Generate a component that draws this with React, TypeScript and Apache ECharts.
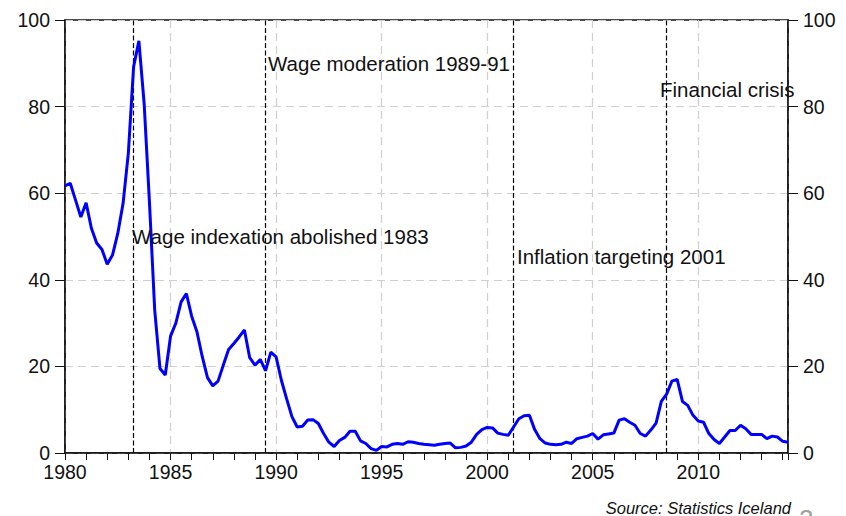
import React, { useEffect, useRef } from "react";
import * as echarts from "echarts";

// Quarterly inflation (% y/y), 1980Q1 .. 2014Q2
const startYear = 1980;
const inflation: number[] = [
  61.7, 62.3, 58.4, 54.5,
  57.8, 51.9, 48.5, 47.0,
  43.6, 45.7, 50.7, 57.6,
  69.2, 89.2, 95.2, 80.7,
  58.0, 33.0, 19.5, 18.0,
  27.0, 30.0, 34.9, 36.8,
  31.6, 28.0, 22.3, 17.4,
  15.5, 16.6, 20.3, 23.9,
  25.3, 26.8, 28.4, 22.0,
  20.3, 21.6, 19.0, 23.3,
  22.2, 16.8, 12.5, 8.4,
  6.0, 6.2, 7.6, 7.7,
  6.8, 4.5, 2.5, 1.5,
  2.9, 3.6, 5.0, 5.0,
  2.8, 2.2, 1.0, 0.6,
  1.5, 1.4, 2.0, 2.2,
  2.0, 2.6, 2.5, 2.2,
  2.0, 1.9, 1.8, 2.0,
  2.2, 2.3, 1.2, 1.3,
  1.6, 2.5, 4.3, 5.4,
  5.9, 5.8, 4.6, 4.3,
  4.1, 6.0, 7.9, 8.6,
  8.7, 5.4, 3.3, 2.3,
  2.0, 1.9, 2.0, 2.5,
  2.2, 3.3, 3.6, 3.9,
  4.5, 3.2, 4.2, 4.4,
  4.6, 7.6, 7.9, 7.1,
  6.4, 4.5, 3.9, 5.3,
  6.9, 11.9, 13.6, 16.6,
  17.0, 11.9, 11.0, 8.7,
  7.4, 7.1, 4.5, 3.1,
  2.2, 3.7, 5.2, 5.2,
  6.4, 5.6, 4.3, 4.3,
  4.3, 3.3, 3.9, 3.7,
  2.7, 2.5,
];

const eventYears: number[] = [1983.25, 1989.5, 2001.25, 2008.5];
const eventLabels: string[] = [
  "Wage indexation abolished 1983",
  "Wage moderation 1989-91",
  "Inflation targeting 2001",
  "Financial crisis",
];
const yTicks: number[] = [0, 20, 40, 60, 80, 100];
const sourceText = "Source: Statistics Iceland";

const FONT = 'Arial, "Liberation Sans", Helvetica, sans-serif';

export default function App() {
  const ref = useRef<HTMLDivElement>(null);

  useEffect(() => {
    if (!ref.current) return;
    const chart = echarts.init(ref.current, undefined, { renderer: "svg" });

    const seriesData = inflation.map((v, i) => [startYear + i / 4, v]);
    const xMax = startYear + (inflation.length - 1) / 4;

    const labelPos = [
      { x: 132, y: 236 },
      { x: 268, y: 63 },
      { x: 517, y: 256 },
      { x: 660, y: 89 },
    ];

    const yAxisBase = {
      type: "value",
      min: yTicks[0],
      max: yTicks[yTicks.length - 1],
      interval: yTicks[1] - yTicks[0],
      axisLine: { show: true, lineStyle: { color: "#111", width: 1.5 } },
      axisTick: { show: true, inside: false, length: 10, lineStyle: { color: "#111", width: 1 } },
      axisLabel: { color: "#111", fontSize: 19.5, fontFamily: FONT, margin: 15 },
    };

    chart.setOption({
      animation: false,
      backgroundColor: "#fff",
      grid: {
        left: 65,
        right: 58,
        top: 20,
        bottom: 63,
        show: true,
        borderColor: "#111",
        borderWidth: 1.5,
        backgroundColor: "transparent",
      },
      xAxis: [
        {
          type: "value",
          min: startYear,
          max: xMax,
          interval: 5,
          axisLine: { show: true, lineStyle: { color: "#111", width: 1.5 } },
          axisTick: { show: false },
          axisLabel: {
            color: "#111",
            fontSize: 19.5,
            fontFamily: FONT,
            margin: 9,
            showMaxLabel: false,
            formatter: (v: number) => (Number.isInteger(v) && v % 5 === 0 ? String(v) : ""),
          },
          splitLine: {
            show: true,
            lineStyle: { color: "#cfcfcf", type: [8, 5], width: 1.2 },
          },
        },
        {
          type: "value",
          min: startYear,
          max: xMax,
          interval: 1,
          position: "bottom",
          axisLine: { show: false },
          axisTick: { show: true, inside: false, length: 7, lineStyle: { color: "#111", width: 1 } },
          axisLabel: { show: false },
          splitLine: { show: false },
        },
      ],
      yAxis: [
        {
          ...yAxisBase,
          position: "left",
          splitLine: {
            show: true,
            lineStyle: { color: "#cfcfcf", type: [8, 5], width: 1.2 },
          },
        },
        {
          ...yAxisBase,
          position: "right",
          splitLine: { show: false },
        },
      ],
      series: [
        {
          type: "line",
          xAxisIndex: 0,
          yAxisIndex: 0,
          data: seriesData,
          showSymbol: false,
          symbol: "none",
          lineStyle: { color: "#0000ff", width: 3 },
          z: 5,
          markLine: {
            silent: true,
            symbol: ["none", "none"],
            label: { show: false },
            lineStyle: { color: "#000", type: [5, 2.5], width: 1.2 },
            data: eventYears.map((y) => ({ xAxis: y })),
          },
        },
      ],
      graphic: [
        ...eventLabels.map((t, i) => ({
          type: "text",
          x: labelPos[i].x,
          y: labelPos[i].y,
          z: 10,
          style: {
            text: t,
            fill: "#111",
            fontSize: 20.5,
            fontFamily: FONT,
            verticalAlign: "middle",
            align: "left",
          },
        })),
        {
          type: "text",
          x: 791,
          y: 508,
          style: {
            text: sourceText,
            fill: "#111",
            fontSize: 16.5,
            fontStyle: "italic",
            fontFamily: FONT,
            verticalAlign: "middle",
            align: "right",
          },
        },
        {
          type: "text",
          x: 799,
          y: 506,
          style: {
            text: "2",
            fill: "#a0a0a0",
            fontSize: 26,
            fontFamily: FONT,
            verticalAlign: "top",
            align: "left",
          },
        },
      ],
    });

    return () => chart.dispose();
  }, []);

  return (
    <div
      ref={ref}
      style={{ position: "fixed", left: 0, top: 0, width: 846, height: 516, background: "#fff" }}
    />
  );
}
